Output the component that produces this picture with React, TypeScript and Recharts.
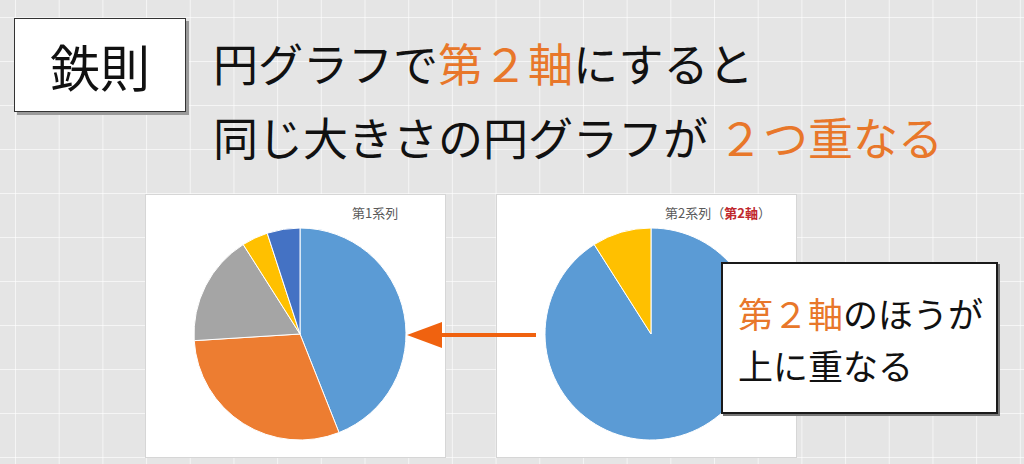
import React from "react"
import { Cell, Pie, PieChart } from "recharts"

const categories = ["項目1", "項目2", "項目3", "項目4", "項目5"]
const series1 = [44, 30, 17, 4, 5]
const series2 = [91, 0, 0, 9, 0]
const sliceColors = ["#5B9BD5", "#ED7D31", "#A5A5A5", "#FFC000", "#4472C4"]

const FONT = '"Noto Sans CJK JP", "Noto Sans", sans-serif'
const ORANGE = "#E8772A"

const toRows = (values: number[]) =>
  categories
    .map((name, i) => ({ name, value: values[i], color: sliceColors[i] }))
    .filter((r) => r.value > 0)

const rows1 = toRows(series1)
const rows2 = toRows(series2)

function PiePanel({
  left,
  rows,
  title,
}: {
  left: number
  rows: { name: string; value: number; color: string }[]
  title: React.ReactNode
}) {
  return (
    <div
      style={{
        position: "absolute",
        left,
        top: 195,
        width: 299,
        height: 262,
        background: "#fff",
        boxShadow: "0 0 0 1px #d6d6d6",
      }}
    >
      <PieChart width={299} height={262} margin={{ top: 0, right: 0, bottom: 0, left: 0 }}>
        <Pie
          data={rows}
          dataKey="value"
          nameKey="name"
          cx={154}
          cy={139}
          outerRadius={106}
          startAngle={90}
          endAngle={-270}
          stroke="#fff"
          strokeWidth={1}
          isAnimationActive={false}
        >
          {rows.map((r) => (
            <Cell key={r.name} fill={r.color} />
          ))}
        </Pie>
      </PieChart>
      {title}
    </div>
  )
}

export default function App() {
  return (
    <div
      style={{
        position: "absolute",
        left: 0,
        top: 0,
        width: 1024,
        height: 464,
        overflow: "hidden",
        fontFamily: FONT,
        backgroundColor: "#e5e5e5",
        backgroundImage:
          "linear-gradient(to right, rgba(255,255,255,0.6) 1px, transparent 1px), linear-gradient(to bottom, rgba(255,255,255,0.6) 1px, transparent 1px)",
        backgroundSize: "43.7px 44px",
        backgroundPosition: "15px 17px",
      }}
    >
      {/* 鉄則 box */}
      <div
        style={{
          position: "absolute",
          left: 14,
          top: 18,
          width: 170,
          height: 92,
          background: "#fff",
          border: "1px solid #333",
          boxShadow: "3px 3px 0 #9a9a9a",
          display: "flex",
          alignItems: "center",
          justifyContent: "center",
          fontSize: 50,
          color: "#111",
          lineHeight: 1,
        }}
      >
        鉄則
      </div>

      {/* heading */}
      <div style={{ position: "absolute", left: 213, top: 40, fontSize: 45, lineHeight: 1, color: "#111", whiteSpace: "nowrap" }}>
        円グラフで<span style={{ color: ORANGE }}>第２軸</span>にすると
      </div>
      <div style={{ position: "absolute", left: 213, top: 114, fontSize: 45, lineHeight: 1, color: "#111", whiteSpace: "nowrap" }}>
        同じ大きさの円グラフが <span style={{ color: ORANGE }}>２つ重なる</span>
      </div>

      <PiePanel
        left={146}
        rows={rows1}
        title={
          <div style={{ position: "absolute", left: 206, top: 8, fontSize: 13, color: "#595959" }}>第1系列</div>
        }
      />
      <PiePanel
        left={497}
        rows={rows2}
        title={
          <div style={{ position: "absolute", left: 168, top: 8, fontSize: 13, color: "#595959", whiteSpace: "nowrap" }}>
            第2系列（<span style={{ color: "#C0282D", fontWeight: 700 }}>第2軸</span>）
          </div>
        }
      />

      {/* arrow */}
      <svg style={{ position: "absolute", left: 0, top: 0 }} width={1024} height={464}>
        <line x1={536} y1={335} x2={438} y2={335} stroke="#F0620F" strokeWidth={4} />
        <polygon points="407,335 442,322 442,348" fill="#F0620F" />
      </svg>

      {/* callout */}
      <div
        style={{
          position: "absolute",
          left: 721,
          top: 262,
          width: 277,
          height: 152,
          background: "#fff",
          border: "2px solid #1a1a1a",
          boxShadow: "2px 2px 0 #777",
          color: "#111",
          fontSize: 35,
          lineHeight: "52px",
          paddingLeft: 15,
          paddingTop: 23,
          boxSizing: "border-box",
          whiteSpace: "nowrap",
        }}
      >
        <div>
          <span style={{ color: ORANGE }}>第２軸</span>のほうが
        </div>
        <div>上に重なる</div>
      </div>
    </div>
  )
}
